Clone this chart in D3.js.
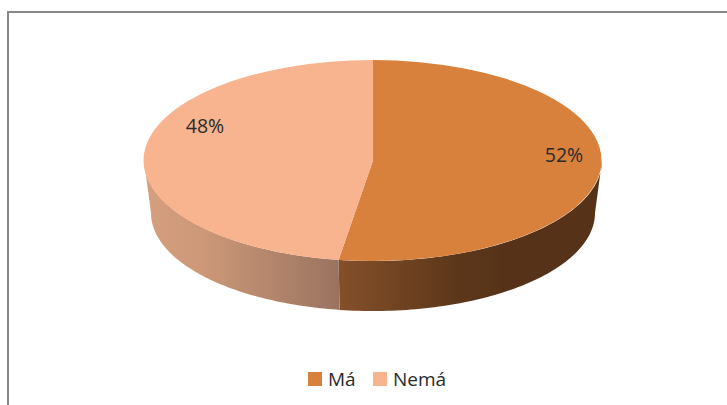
<!DOCTYPE html>
<html><head><meta charset="utf-8">
<script src="https://cdn.jsdelivr.net/npm/d3@7"></script>
<style>html,body{margin:0;background:#fff}svg{display:block}text{font-family:"Open Sans",sans-serif;fill:#2a2a2a}</style>
</head><body><svg id="c" width="727" height="405"></svg>
<script>
const categories = ["Má", "Nemá"];
const values = [52.4, 47.6];
const labels = ["52%", "48%"];
const topColors = ["#d8813c", "#f7b48e"];

const W = 727, H = 405, cx = 373, cy = 160.5, rx = 229, ry = 100.5;
const cyB = 213, rxB = 222, ryB = 98;
const svg = d3.select("#c");
svg.append("path").attr("d", `M8 ${H}V12H${W}`).attr("fill", "none").attr("stroke", "#888").attr("stroke-width", 2);

const defs = svg.append("defs");
const sideStops = [
  [["0", "#84502a"], ["0.45", "#5d371a"], ["0.62", "#563318"], ["1", "#563318"]],
  [["0", "#d6a07f"], ["0.3", "#cd9878"], ["1", "#9a7360"]]
];
const pieGen = d3.pie().sort(null).value(d => d);
const arcs = pieGen(values);
const px = a => cx + rx * Math.sin(a), py = a => cy - ry * Math.cos(a);
const qx = a => cx + rxB * Math.sin(a), qy = a => cyB - ryB * Math.cos(a);
const line = d3.line();

function sidePath(a0, a1) {
  const s = Math.max(a0, Math.PI / 2), e = Math.min(a1, 3 * Math.PI / 2);
  const n = 80, angs = d3.range(n + 1).map(i => s + (e - s) * i / n);
  const pts = angs.map(a => [px(a), py(a)]).concat(angs.slice().reverse().map(a => [qx(a), qy(a)]));
  return line(pts) + "Z";
}
arcs.forEach((d, i) => {
  const s = Math.max(d.startAngle, Math.PI / 2), e = Math.min(d.endAngle, 3 * Math.PI / 2);
  const x0 = Math.min(px(s), px(e)), x1 = Math.max(px(s), px(e));
  const g = defs.append("linearGradient").attr("id", "side" + i).attr("gradientUnits", "userSpaceOnUse")
    .attr("x1", x0).attr("x2", x1).attr("y1", 0).attr("y2", 0);
  sideStops[i].forEach(st => g.append("stop").attr("offset", st[0]).attr("stop-color", st[1]));
  svg.append("path").attr("d", sidePath(d.startAngle, d.endAngle)).attr("fill", `url(#side${i})`);
});
const arcGen = d3.arc().innerRadius(0).outerRadius(1);
svg.append("g").attr("transform", `translate(${cx},${cy}) scale(${rx},${ry})`)
  .selectAll("path").data(arcs).join("path").attr("d", arcGen).attr("fill", (d, i) => topColors[i]);

const labelPos = [[564, 162], [205, 133]];
svg.selectAll("text.l").data(labels).join("text").attr("class", "l")
  .attr("x", (d, i) => labelPos[i][0]).attr("y", (d, i) => labelPos[i][1])
  .attr("text-anchor", "middle").attr("font-size", 19.5).text(d => d);

const legend = [[308, 328], [373, 393]];
categories.forEach((c, i) => {
  svg.append("rect").attr("x", legend[i][0]).attr("y", 372).attr("width", 14).attr("height", 14).attr("fill", topColors[i]);
  svg.append("text").attr("x", legend[i][1]).attr("y", 386).attr("font-size", 19).text(c);
});
</script></body></html>
